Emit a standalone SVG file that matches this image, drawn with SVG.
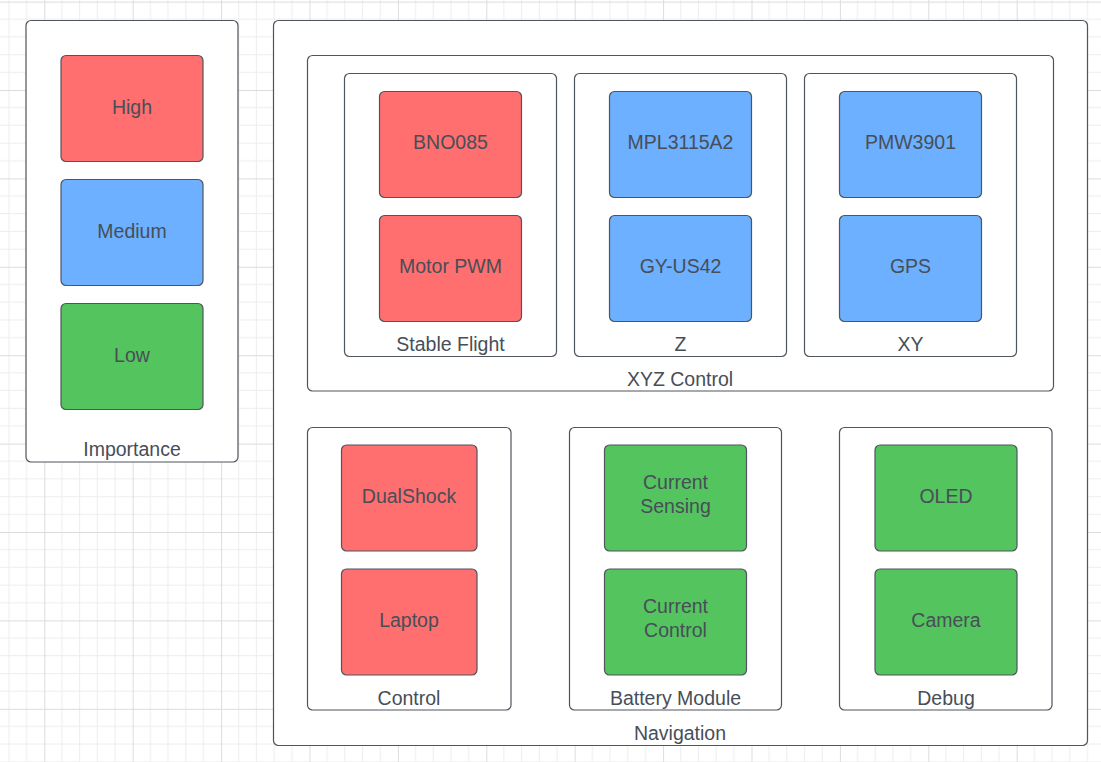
<svg xmlns="http://www.w3.org/2000/svg" width="1101" height="762" viewBox="0 0 1101 762">
<defs>
<pattern id="grid" patternUnits="userSpaceOnUse" x="44.3" y="1.6" width="88.4" height="88.4">
<path d="M17.68 0V88.4M35.36 0V88.4M53.04 0V88.4M70.72 0V88.4M0 17.68H88.4M0 35.36H88.4M0 53.04H88.4M0 70.72H88.4" stroke="#ededed" stroke-width="1" fill="none"/>
<path d="M0.5 0V88.4M0 0.5H88.4" stroke="#dcdcdc" stroke-width="1" fill="none"/>
</pattern>
<style>
.c{fill:#ffffff;stroke:#4f555c;stroke-width:1.2}
.n{stroke:#4f555c;stroke-width:1.2}
.r{fill:#ff6f6f}
.b{fill:#6cb0ff}
.g{fill:#54c45e}
text{font-family:"Liberation Sans",Arial,sans-serif;font-size:19.5px;fill:#474e58;text-anchor:middle}
</style>
</defs>
<rect width="1101" height="762" fill="#ffffff"/>
<rect width="1101" height="762" fill="url(#grid)"/>

<g id="importance">
<rect class="c" x="26" y="20.5" width="212" height="441.5" rx="5"/>
<text x="132" y="456">Importance</text>
</g>
<g id="high"><rect class="n r" x="61" y="55.5" width="142" height="106" rx="5"/><text x="132" y="114">High</text></g>
<g id="medium"><rect class="n b" x="61" y="179.5" width="142" height="106" rx="5"/><text x="132" y="238">Medium</text></g>
<g id="low"><rect class="n g" x="61" y="303.5" width="142" height="106" rx="5"/><text x="132" y="362">Low</text></g>

<g id="navigation">
<rect class="c" x="273.5" y="20.5" width="814" height="725" rx="5"/>
<text x="680" y="740">Navigation</text>
</g>

<g id="xyz-control">
<rect class="c" x="307.5" y="55.5" width="746" height="335.5" rx="5"/>
<text x="680" y="386">XYZ Control</text>
</g>

<g id="stable-flight">
<rect class="c" x="344.5" y="73.5" width="212" height="283" rx="5"/>
<text x="450.5" y="351">Stable Flight</text>
</g>
<g id="bno085"><rect class="n r" x="379.5" y="91.5" width="142" height="106" rx="5"/><text x="450.5" y="149">BNO085</text></g>
<g id="motor-pwm"><rect class="n r" x="379.5" y="215.5" width="142" height="106" rx="5"/><text x="450.5" y="273">Motor PWM</text></g>

<g id="z">
<rect class="c" x="574.5" y="73.5" width="212" height="283" rx="5"/>
<text x="680.5" y="351">Z</text>
</g>
<g id="mpl3115a2"><rect class="n b" x="609.5" y="91.5" width="142" height="106" rx="5"/><text x="680.5" y="149">MPL3115A2</text></g>
<g id="gy-us42"><rect class="n b" x="609.5" y="215.5" width="142" height="106" rx="5"/><text x="680.5" y="273">GY-US42</text></g>

<g id="xy">
<rect class="c" x="804.5" y="73.5" width="212" height="283" rx="5"/>
<text x="910.5" y="351">XY</text>
</g>
<g id="pmw3901"><rect class="n b" x="839.5" y="91.5" width="142" height="106" rx="5"/><text x="910.5" y="149">PMW3901</text></g>
<g id="gps"><rect class="n b" x="839.5" y="215.5" width="142" height="106" rx="5"/><text x="910.5" y="273">GPS</text></g>

<g id="control">
<rect class="c" x="307.5" y="427.5" width="203.5" height="282.5" rx="5"/>
<text x="409" y="705">Control</text>
</g>
<g id="dualshock"><rect class="n r" x="341.5" y="445" width="135.5" height="106" rx="5"/><text x="409" y="503">DualShock</text></g>
<g id="laptop"><rect class="n r" x="341.5" y="569" width="135.5" height="106" rx="5"/><text x="409" y="627">Laptop</text></g>

<g id="battery-module">
<rect class="c" x="569.5" y="427.5" width="212" height="282.5" rx="5"/>
<text x="675.5" y="705">Battery Module</text>
</g>
<g id="current-sensing"><rect class="n g" x="604.5" y="445" width="142" height="106" rx="5"/><text x="675.5" y="489">Current</text><text x="675.5" y="513">Sensing</text></g>
<g id="current-control"><rect class="n g" x="604.5" y="569" width="142" height="106" rx="5"/><text x="675.5" y="613">Current</text><text x="675.5" y="637">Control</text></g>

<g id="debug">
<rect class="c" x="839.5" y="427.5" width="212.5" height="282.5" rx="5"/>
<text x="946" y="705">Debug</text>
</g>
<g id="oled"><rect class="n g" x="875" y="445" width="142" height="106" rx="5"/><text x="946" y="503">OLED</text></g>
<g id="camera"><rect class="n g" x="875" y="569" width="142" height="106" rx="5"/><text x="946" y="627">Camera</text></g>

<g id="connectors"></g>
</svg>
